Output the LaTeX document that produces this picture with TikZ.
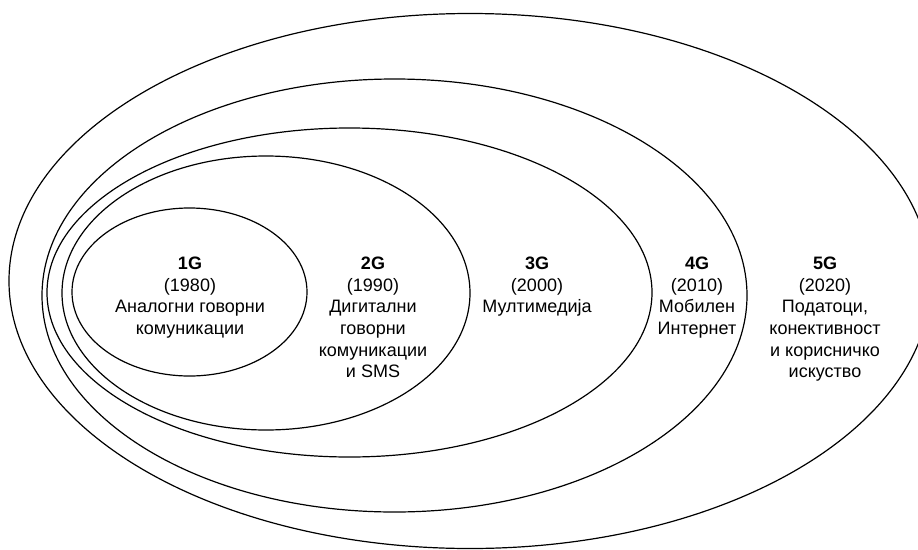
\documentclass[tikz,border=0pt]{standalone}
\usepackage{fontspec}
\setmainfont{Liberation Sans}
\begin{document}
\begin{tikzpicture}[x=1pt,y=-1pt,
  ring/.style={draw=black, line width=1.2pt},
  lbl/.style={align=center, font=\fontsize{18}{21.6}\selectfont, inner sep=0pt, anchor=north}]
\useasboundingbox (0,0) rectangle (918,549);
\clip (0,0) rectangle (918,549);
\fill[white] (0,0) rectangle (918,549);
\draw[ring] (470,281) ellipse [x radius=461, y radius=267.5];
\draw[ring] (394.5,295.5) ellipse [x radius=352.5, y radius=216.5];
\draw[ring] (349.5,292.5) ellipse [x radius=302.5, y radius=164.5];
\draw[ring] (266,293) ellipse [x radius=204, y radius=137];
\draw[ring] (189.5,292) ellipse [x radius=117.5, y radius=84];
\node[lbl] (t1) at (190,257) {\textbf{1G}\\(1980)\\Аналогни говорни\\комуникации};
\node[lbl] (t2) at (373,257) {\textbf{2G}\\(1990)\\Дигитални\\говорни\\комуникации\\и SMS};
\node[lbl] (t3) at (537,257) {\textbf{3G}\\(2000)\\Мултимедија};
\node[lbl] (t4) at (697,257) {\textbf{4G}\\(2010)\\Мобилен\\Интернет};
\node[lbl] (t5) at (825,257) {\textbf{5G}\\(2020)\\Податоци,\\конективност\\и корисничко\\искуство};
\end{tikzpicture}
\end{document}
